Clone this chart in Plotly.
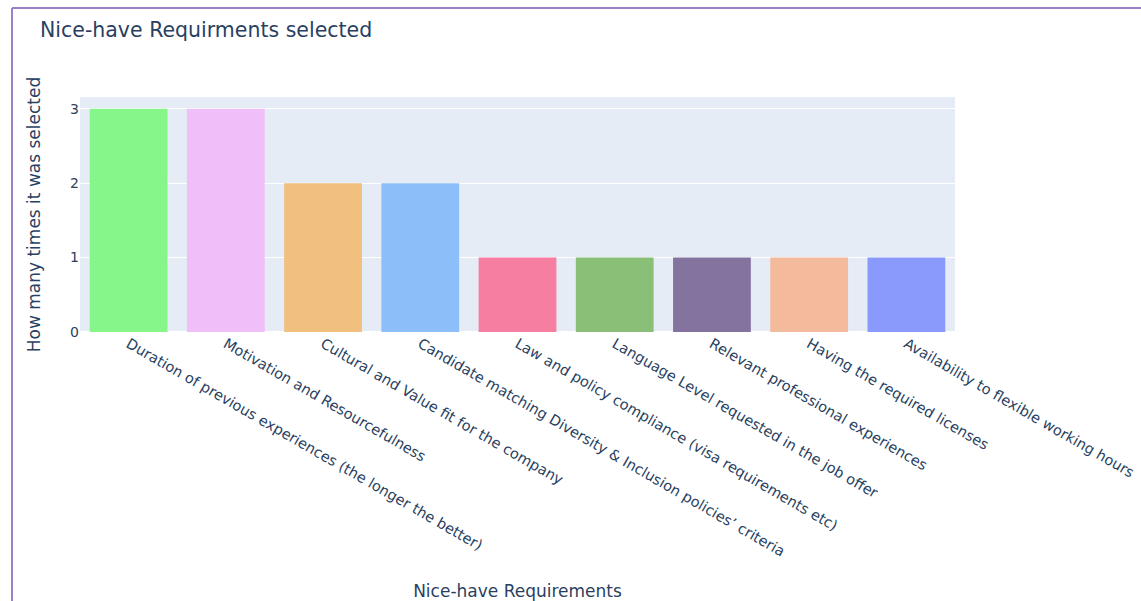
import plotly.graph_objects as go

requirements = [
    "Duration of previous experiences (the longer the better)",
    "Motivation and Resourcefulness",
    "Cultural and Value fit for the company",
    "Candidate matching Diversity & Inclusion policies’ criteria",
    "Law and policy compliance (visa requirements etc)",
    "Language Level requested in the job offer",
    "Relevant professional experiences",
    "Having the required licenses",
    "Availability to flexible working hours",
]
times_selected = [3, 3, 2, 2, 1, 1, 1, 1, 1]
bar_colors = [
    "#86F58A", "#F0BEF8", "#F1BF7E", "#8CBFFA", "#F67FA1",
    "#8ABF77", "#85739F", "#F3BA9C", "#8A99FC",
]

W, H = 1141, 601
L, R, T, B = 80, 186, 97, 269
pw, ph = W - L - R, H - T - B

fig = go.Figure(
    go.Bar(
        x=requirements,
        y=times_selected,
        marker=dict(color=bar_colors, line=dict(width=0)),
        showlegend=False,
    )
)

# purple frame around the figure (left and top edges)
fx = (12 - L) / pw
fy_top = (H - B - 8) / ph
fy_bot = (H - B - H - 10) / ph
frame = dict(color="#9B80C8", width=2)
fig.add_shape(type="line", xref="paper", yref="paper",
              x0=fx, x1=fx, y0=fy_bot, y1=fy_top, line=frame)
fig.add_shape(type="line", xref="paper", yref="paper",
              x0=fx, x1=(W + 10 - L) / pw, y0=fy_top, y1=fy_top, line=frame)

fig.update_layout(
    width=W,
    height=H,
    margin=dict(l=L, r=R, t=T, b=B),
    template="plotly",
    font=dict(family="DejaVu Sans", size=14, color="#2a3f5f"),
    title=dict(
        text="Nice-have Requirments selected",
        x=40 / W, xref="container", xanchor="left",
        y=1 - 30 / H, yref="container", yanchor="middle",
        font=dict(size=20.5),
    ),
    bargap=0.2,
    xaxis=dict(
        title=dict(text="Nice-have Requirements", font=dict(size=17), standoff=28),
        tickangle=30,
        tickfont=dict(size=14.5),
        automargin=False,
    ),
    yaxis=dict(
        title=dict(text="How many times it was selected", font=dict(size=17), standoff=25),
        tickfont=dict(size=14),
        dtick=1,
        automargin=False,
    ),
)

fig.write_html("out.html")
